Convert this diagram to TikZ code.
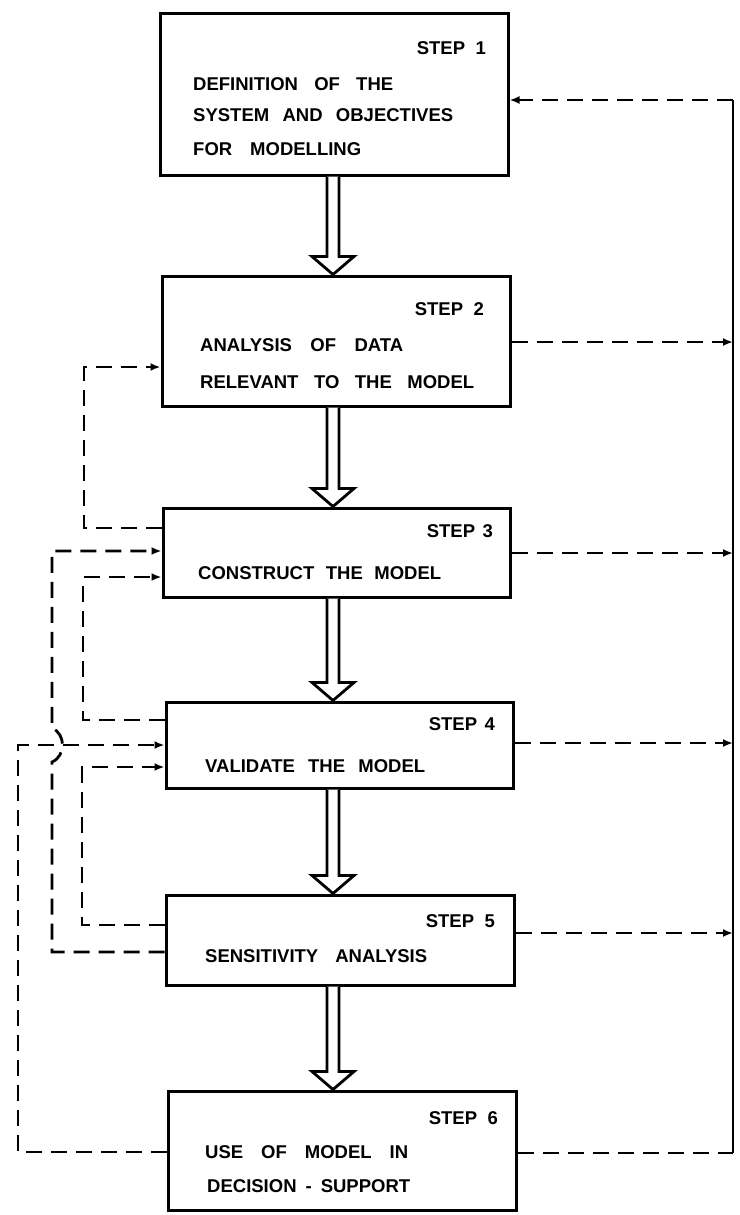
\documentclass[tikz,border=0pt]{standalone}
\usepackage{fontspec}
\setmainfont{Liberation Sans}
\usetikzlibrary{calc,arrows.meta}
\tikzset{
  box/.style={draw, line width=3pt, inner sep=0pt, fill=white},
  txt/.style={inner sep=0pt, font=\bfseries\fontsize{18.5}{20}\selectfont},
  fb/.style={line width=2.8pt, dash pattern=on 16pt off 9pt},
  fbarrow/.style={fb, -{Latex[length=10pt,width=8pt]}},
  solidline/.style={line width=2.8pt},
  hollow/.style={line width=2.8pt, fill=white, line join=miter}
}
\newcommand\hollowarrow[2]{%
  \draw[hollow] ($(#1.south -| ax)+(-6,0)$) -- ($(#2.north -| ax)+(-6,-18)$)
    -- ($(#2.north -| ax)+(-21,-18)$) -- (#2.north -| ax)
    -- ($(#2.north -| ax)+(21,-18)$) -- ($(#2.north -| ax)+(6,-18)$)
    -- ($(#1.south -| ax)+(6,0)$);}
\begin{document}
\begin{tikzpicture}[x=1pt,y=-1pt]
\fill[white] (0,0) rectangle (739,1215);
\useasboundingbox (0,0) rectangle (739,1215);
\coordinate (ax) at (333,0);

% boxes
\node[box, minimum width=348pt, minimum height=161pt] (b1) at (334,94.5) {};
\node[box, minimum width=348pt, minimum height=130pt] (b2) at (336,341) {};
\node[box, minimum width=347pt, minimum height=89pt]  (b3) at (336.5,552.5) {};
\node[box, minimum width=347pt, minimum height=86pt]  (b4) at (339.5,745) {};
\node[box, minimum width=348pt, minimum height=90pt]  (b5) at (340,940) {};
\node[box, minimum width=348pt, minimum height=119pt] (b6) at (342,1150.5) {};

% texts
\node[txt, anchor=east] (s1) at (486,48.5) {\makebox[69pt][s]{STEP 1}};
\node[txt, anchor=west] (t1a) at (193,84) {\makebox[200pt][s]{DEFINITION OF THE}};
\node[txt, anchor=west] (t1b) at (193,115) {\makebox[260pt][s]{SYSTEM AND OBJECTIVES}};
\node[txt, anchor=west] (t1c) at (193,149) {\makebox[168pt][s]{FOR MODELLING}};

\node[txt, anchor=east] (s2) at (484,309.5) {\makebox[69pt][s]{STEP 2}};
\node[txt, anchor=west] (t2a) at (200,345.5) {\makebox[203pt][s]{ANALYSIS OF DATA}};
\node[txt, anchor=west] (t2b) at (200,382) {\makebox[274pt][s]{RELEVANT TO THE MODEL}};

\node[txt, anchor=east] (s3) at (493,531) {\makebox[66pt][s]{STEP 3}};
\node[txt, anchor=west] (t3a) at (198,573) {\makebox[243pt][s]{CONSTRUCT THE MODEL}};

\node[txt, anchor=east] (s4) at (495,724.5) {\makebox[66pt][s]{STEP 4}};
\node[txt, anchor=west] (t4a) at (205,766) {\makebox[220pt][s]{VALIDATE THE MODEL}};

\node[txt, anchor=east] (s5) at (495,921) {\makebox[69pt][s]{STEP 5}};
\node[txt, anchor=west] (t5a) at (205,956) {\makebox[222pt][s]{SENSITIVITY ANALYSIS}};

\node[txt, anchor=east] (s6) at (498,1118.5) {\makebox[69pt][s]{STEP 6}};
\node[txt, anchor=west] (t6a) at (205,1152) {\makebox[203pt][s]{USE OF MODEL IN}};
\node[txt, anchor=west] (t6b) at (207,1186) {\makebox[203pt][s]{DECISION - SUPPORT}};

% hollow arrows
\hollowarrow{b1}{b2}
\hollowarrow{b2}{b3}
\hollowarrow{b3}{b4}
\hollowarrow{b4}{b5}
\hollowarrow{b5}{b6}

% right-hand feedback
\coordinate (rt) at (733,100);
\coordinate (rb) at (733,1153);
\draw[solidline] (rb) -- (rt);
\draw[fbarrow] (rt) -- (b1.east |- rt);
\draw[fbarrow] (b2.east |- 0,342) -- (733,342);
\draw[fbarrow] (b3.east |- 0,553) -- (733,553);
\draw[fbarrow] (b4.east |- 0,743) -- (733,743);
\draw[fbarrow] (b5.east |- 0,933) -- (733,933);
\draw[fb] (b6.east |- rb) -- (rb);

% left-hand feedback loops
\draw[fbarrow] (b3.west |- 0,528) -| (84,367) -- (b2.west |- 0,367);
\draw[fbarrow] (b4.west |- 0,720) -| (83,577) -- (b3.west |- 0,577);
\draw[fbarrow] (b5.west |- 0,925) -| (82,767) -- (b4.west |- 0,767);
\draw[fbarrow] (b6.west |- 0,1152) -| (18,745) -- (b4.west |- 0,745);
\draw[fbarrow] (b5.west |- 0,952) -- (52,952) -- (52,762)
   .. controls (66,756) and (66,734) .. (52,728) -- (52,551) -- (b3.west |- 0,551);
\end{tikzpicture}
\end{document}
